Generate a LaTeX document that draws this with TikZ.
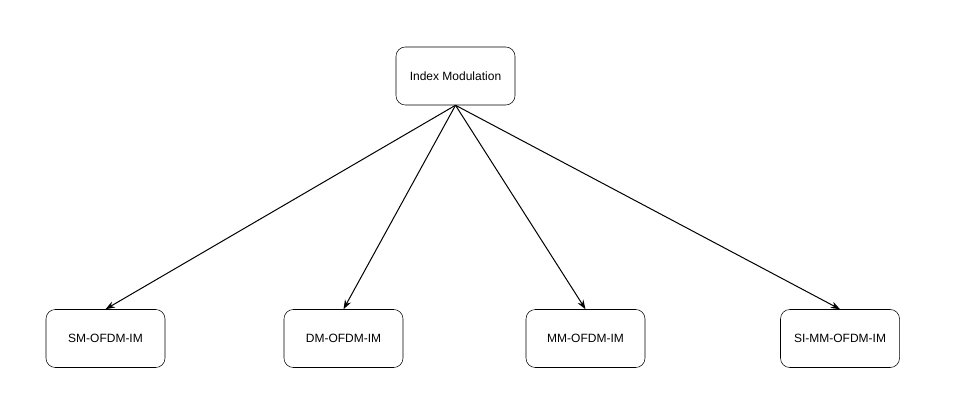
\documentclass[tikz,border=0pt]{standalone}
\usepackage{fontspec}
\setmainfont{Liberation Sans}
\usetikzlibrary{arrows.meta}

\begin{document}
\begin{tikzpicture}[x=0.75pt, y=-0.75pt,
			box/.style={draw, rounded corners=7pt, minimum width=89.25pt, minimum height=43.5pt, inner sep=0pt, font=\fontsize{9}{11}\selectfont},
			link/.style={-{Stealth[length=7pt, width=5pt]}, line width=0.75pt}]
			\useasboundingbox (0,0) rectangle (955,413);
			
			% Define the node for the first line
			\node[box] (IM) at (455.5, 76) {Index Modulation};
			
			% Define the nodes for the second line
			\node[box] (SM) at (105.5, 338.5) {SM-OFDM-IM};
			\node[box] (DM) at (343.5, 338.5) {DM-OFDM-IM};
			\node[box] (MM) at (585.5, 338.5) {MM-OFDM-IM};
			\node[box] (SIMM) at (840, 338.5) {SI-MM-OFDM-IM};
			
			% Draw the arrows
			\draw[link] (IM.south) -- (SM.north);
			\draw[link] (IM.south) -- (DM.north);
			\draw[link] (IM.south) -- (MM.north);
			\draw[link] (IM.south) -- (SIMM.north);
		\end{tikzpicture}
\end{document}
